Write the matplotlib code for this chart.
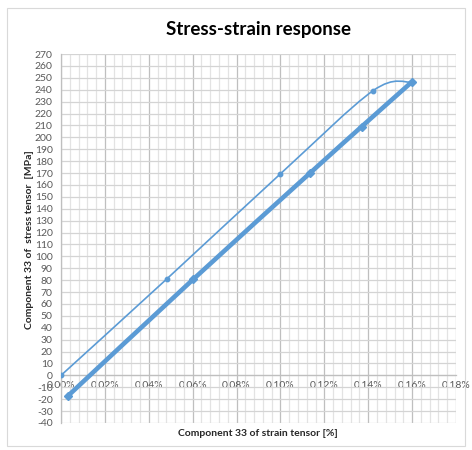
import numpy as np
import matplotlib
matplotlib.use("Agg")
import matplotlib.pyplot as plt
from matplotlib.path import Path
from matplotlib.patches import PathPatch, Rectangle
from matplotlib.ticker import MultipleLocator, FixedLocator

# ---- data (strain in %, stress in MPa) ----
strain_loading = [0.0, 0.0482, 0.0998, 0.1423, 0.1598]
stress_loading = [0.0, 81.0, 169.0, 239.3, 246.4]
strain_unloading = [0.1598, 0.1370, 0.1135, 0.0603, 0.0033]
stress_unloading = [246.4, 209.0, 170.0, 80.8, -17.0]

y_ticks = list(range(-40, 271, 10))
y_tick_labels = [str(v) for v in y_ticks]
x_ticks = [0.00, 0.02, 0.04, 0.06, 0.08, 0.10, 0.12, 0.14, 0.16, 0.18]
x_tick_labels = ["%.2f%%" % v for v in x_ticks]

BLUE = "#5B9BD5"
FONT = "Lato"


def smooth_path(xs, ys):
    """Excel-like smoothed line: cubic Bezier (Catmull-Rom style) through points."""
    p = np.column_stack([xs, ys]).astype(float)
    n = len(p)
    verts = [p[0]]
    codes = [Path.MOVETO]
    for i in range(n - 1):
        p0 = p[i - 1] if i > 0 else p[i]
        p1 = p[i]
        p2 = p[i + 1]
        p3 = p[i + 2] if i + 2 < n else p[i + 1]
        c1 = p1 + (p2 - p0) / 6.0
        c2 = p2 - (p3 - p1) / 6.0
        verts += [c1, c2, p2]
        codes += [Path.CURVE4, Path.CURVE4, Path.CURVE4]
    return Path(verts, codes)


fig = plt.figure(figsize=(4.72, 4.50), dpi=100)
fig.patch.set_facecolor("white")

# chart area border
fig.patches.append(Rectangle((7 / 472, 4 / 450), 458 / 472, 438 / 450,
                             transform=fig.transFigure, fill=False,
                             edgecolor="#d9d9d9", linewidth=0.8))

ax = fig.add_axes([61 / 472, (450 - 423) / 450, 395 / 472, 369 / 450])
ax.set_xlim(0, 0.18)
ax.set_ylim(-40, 270)

# grid
ax.xaxis.set_major_locator(FixedLocator(x_ticks))
ax.xaxis.set_minor_locator(MultipleLocator(0.004))
ax.yaxis.set_major_locator(FixedLocator(y_ticks))
ax.grid(which="minor", axis="x", color="#e3e3e3", linewidth=0.9)
ax.grid(which="major", axis="x", color="#bfbfbf", linewidth=0.9)
ax.grid(which="major", axis="y", color="#d4d4d4", linewidth=0.9)
ax.set_axisbelow(True)

for s in ["top", "right"]:
    ax.spines[s].set_visible(False)
ax.spines["left"].set_color("#bfbfbf")
ax.spines["left"].set_linewidth(0.9)
ax.spines["bottom"].set_position(("data", 0))
ax.spines["bottom"].set_color("#bfbfbf")
ax.spines["bottom"].set_linewidth(0.9)

ax.set_yticklabels(y_tick_labels)
ax.set_xticklabels(x_tick_labels)
ax.tick_params(axis="both", which="both", length=0)
ax.tick_params(axis="y", pad=6, labelsize=7.5, labelcolor="#595959")
ax.tick_params(axis="x", pad=4, labelsize=7.5, labelcolor="#595959")
for lab in ax.get_xticklabels() + ax.get_yticklabels():
    lab.set_fontfamily(FONT)

# loading curve (thin, smoothed)
ax.add_patch(PathPatch(smooth_path(strain_loading, stress_loading),
                       facecolor="none", edgecolor=BLUE, linewidth=1.2,
                       zorder=3))
ax.plot(strain_loading, stress_loading, linestyle="none", marker="o",
        markersize=3.2, color=BLUE, zorder=4)

# unloading curve (thick)
ax.add_patch(PathPatch(smooth_path(strain_unloading, stress_unloading),
                       facecolor="none", edgecolor=BLUE, linewidth=3.3,
                       zorder=3, capstyle="round"))
ax.plot(strain_unloading, stress_unloading, linestyle="none", marker="D",
        markersize=4.2, color=BLUE, zorder=4)

fig.text(258 / 472, 1 - 30 / 450, "Stress-strain response", ha="center",
         va="center", fontsize=13.5, fontweight="bold", family=FONT,
         color="#000000")
fig.text(258 / 472, 1 - 433 / 450, "Component 33 of strain tensor [%]",
         ha="center", va="center", fontsize=7.5, fontweight="bold",
         family=FONT, color="#262626")
fig.text(30 / 472, 1 - 240 / 450, "Component 33 of  stress tensor  [MPa]",
         ha="center", va="center", rotation=90, fontsize=7.5,
         fontweight="bold", family=FONT, color="#262626")

fig.savefig("out.png", dpi=100, facecolor="white")
